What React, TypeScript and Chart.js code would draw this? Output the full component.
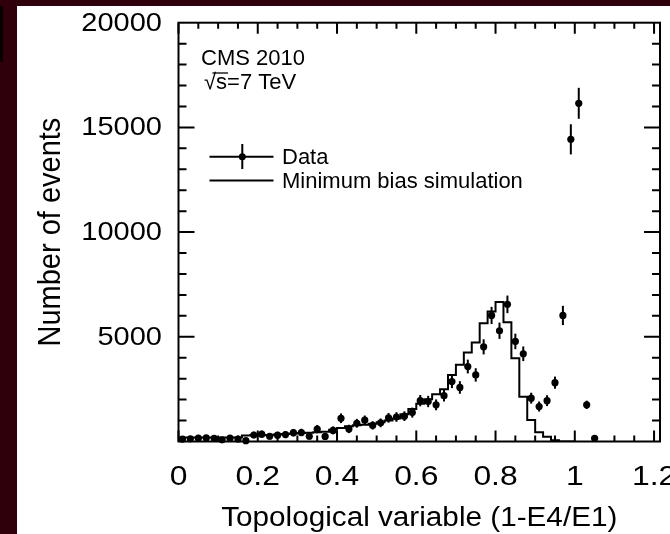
import React, { useEffect, useRef } from 'react';
import { Chart, registerables } from 'chart.js';

Chart.register(...registerables);

// ---------- data ----------
const dataBinCenters = [
  0.01, 0.03, 0.05, 0.07, 0.09, 0.11, 0.13, 0.15, 0.17, 0.19,
  0.21, 0.23, 0.25, 0.27, 0.29, 0.31, 0.33, 0.35, 0.37, 0.39,
  0.41, 0.43, 0.45, 0.47, 0.49, 0.51, 0.53, 0.55, 0.57, 0.59,
  0.61, 0.63, 0.65, 0.67, 0.69, 0.71, 0.73, 0.75, 0.77, 0.79,
  0.81, 0.83, 0.85, 0.87, 0.89, 0.91, 0.93, 0.95, 0.97, 0.99,
  1.01, 1.03, 1.05,
];
const dataCounts = [
  110, 130, 160, 170, 150, 80, 160, 120, 40, 310,
  350, 250, 300, 330, 420, 430, 250, 590, 240, 530,
  1110, 600, 870, 1020, 770, 890, 1130, 1170, 1210, 1380,
  1950, 1910, 1750, 2190, 2860, 2580, 3580, 3180, 4520, 6020,
  5290, 6550, 4780, 4190, 2070, 1670, 1950, 2810, 6020, 14430,
  16150, 1750, 150,
];
const dataErrors = [
  100, 100, 100, 100, 100, 100, 100, 100, 100, 160,
  170, 150, 160, 170, 180, 180, 150, 200, 150, 190,
  230, 200, 210, 220, 200, 210, 230, 230, 230, 240,
  270, 270, 260, 280, 310, 300, 330, 320, 360, 410,
  390, 420, 370, 350, 260, 240, 260, 290, 460, 720,
  740, 200, 100,
];

const simBinCenters = [
  0.01, 0.03, 0.05, 0.07, 0.09, 0.11, 0.13, 0.15, 0.17, 0.19,
  0.21, 0.23, 0.25, 0.27, 0.29, 0.31, 0.33, 0.35, 0.37, 0.39,
  0.41, 0.43, 0.45, 0.47, 0.49, 0.51, 0.53, 0.55, 0.57, 0.59,
  0.61, 0.63, 0.65, 0.67, 0.69, 0.71, 0.73, 0.75, 0.77, 0.79,
  0.81, 0.83, 0.85, 0.87, 0.89, 0.91, 0.93, 0.95, 0.97, 0.99,
];
const simCounts = [
  190, 190, 190, 190, 190, 190, 190, 190, 190, 290,
  300, 300, 310, 330, 360, 380, 400, 420, 440, 470,
  560, 650, 730, 780, 800, 850, 920, 1000, 1100, 1300,
  1550, 1800, 2020, 2260, 2500, 3180, 3660, 4250, 4730, 5650,
  6210, 6660, 5690, 3980, 2140, 1030, 440, 230, 60, 0,
];
const BIN_WIDTH = 0.02;

const xTickValues = [0, 0.2, 0.4, 0.6, 0.8, 1.0, 1.2];
const xTickLabels = ['0', '0.2', '0.4', '0.6', '0.8', '1', '1.2'];
const yTickValues = [5000, 10000, 15000, 20000];
const yTickLabels = ['5000', '10000', '15000', '20000'];
const xMinorStep = 0.05;
const yMinorStep = 1000;
const X_MIN = 0;
const X_MAX = 1.215;
const Y_MIN = 0;
const Y_MAX = 20000;

const xTitle = 'Topological variable (1-E4/E1)';
const yTitle = 'Number of events';
const legendData = 'Data';
const legendSim = 'Minimum bias simulation';
const noteLine1 = 'CMS 2010';
const noteLine2 = '√s=7 TeV';

// ---------- drawing helpers ----------
const FONT = '"Liberation Sans", Arial, Helvetica, sans-serif';
const INK = '#000';

function drawText(
  ctx: CanvasRenderingContext2D,
  s: string,
  x: number,
  y: number,
  size: number,
  align: CanvasTextAlign,
  baseline: CanvasTextBaseline,
  sx = 1,
  rot = 0,
  sy = 1,
) {
  ctx.save();
  ctx.translate(x, y);
  if (rot) ctx.rotate(rot);
  ctx.scale(sx, sy);
  ctx.font = `${size}px ${FONT}`;
  ctx.textAlign = align;
  ctx.textBaseline = baseline;
  ctx.fillStyle = INK;
  ctx.fillText(s, 0, 0);
  ctx.restore();
}

const errorBarPlugin = {
  id: 'errorBars',
  afterDatasetsDraw(chart: any) {
    const ctx = chart.ctx as CanvasRenderingContext2D;
    const xs = chart.scales.x;
    const ys = chart.scales.y;
    ctx.save();
    ctx.strokeStyle = INK;
    ctx.lineWidth = 2;
    dataBinCenters.forEach((xc, i) => {
      const px = xs.getPixelForValue(xc);
      const y1 = ys.getPixelForValue(dataCounts[i] - dataErrors[i]);
      const y2 = ys.getPixelForValue(dataCounts[i] + dataErrors[i]);
      ctx.beginPath();
      ctx.moveTo(px, Math.min(y1, chart.chartArea.bottom));
      ctx.lineTo(px, y2);
      ctx.stroke();
    });
    ctx.restore();
  },
};

const framePlugin = {
  id: 'frame',
  afterDraw(chart: any) {
    const ctx = chart.ctx as CanvasRenderingContext2D;
    const { left, right, top, bottom } = chart.chartArea;
    const xs = chart.scales.x;
    const ys = chart.scales.y;
    ctx.save();
    ctx.strokeStyle = INK;
    ctx.lineWidth = 2;
    ctx.lineCap = 'butt';
    ctx.strokeRect(left, top, right - left, bottom - top);

    // x ticks (bottom and top, inward)
    const nx = Math.round(1.2 / xMinorStep);
    for (let i = 0; i <= nx; i++) {
      const v = i * xMinorStep;
      const px = xs.getPixelForValue(v);
      const major = i % 4 === 0;
      const len = major ? 11 : 6;
      ctx.beginPath();
      ctx.moveTo(px, bottom);
      ctx.lineTo(px, bottom - len);
      ctx.moveTo(px, top);
      ctx.lineTo(px, top + len);
      ctx.stroke();
    }
    // y ticks (left and right, inward)
    const ny = Math.round(Y_MAX / yMinorStep);
    for (let i = 1; i < ny; i++) {
      const v = i * yMinorStep;
      const py = ys.getPixelForValue(v);
      const major = i % 5 === 0;
      const len = major ? 16 : 8;
      ctx.beginPath();
      ctx.moveTo(left, py);
      ctx.lineTo(left + len, py);
      ctx.moveTo(right, py);
      ctx.lineTo(right - len, py);
      ctx.stroke();
    }
    ctx.restore();

    // tick labels
    xTickValues.forEach((v, i) => {
      drawText(ctx, xTickLabels[i], xs.getPixelForValue(v), 477.5, 27, 'center', 'middle', 1.18);
    });
    yTickValues.forEach((v, i) => {
      drawText(ctx, yTickLabels[i], 162, ys.getPixelForValue(v) + 1, 25, 'right', 'middle', 1.16);
    });

    // axis titles
    drawText(ctx, xTitle, (left + right) / 2, 519, 27, 'center', 'middle', 1.1);
    drawText(ctx, yTitle, 51, (top + bottom) / 2, 29, 'center', 'middle', 1, -Math.PI / 2, 1.1);

    // annotation
    drawText(ctx, noteLine1, 201, 65, 22, 'left', 'alphabetic');
    drawText(ctx, noteLine2, 204, 89, 22, 'left', 'alphabetic');
    ctx.save();
    ctx.font = `22px ${FONT}`;
    const wRad = ctx.measureText('√').width;
    const wS = ctx.measureText('s').width;
    ctx.strokeStyle = INK;
    ctx.lineWidth = 1.3;
    ctx.beginPath();
    ctx.moveTo(204 + wRad * 0.7, 73);
    ctx.lineTo(204 + wRad + wS + 1, 73);
    ctx.stroke();
    ctx.restore();

    // legend
    ctx.save();
    ctx.strokeStyle = INK;
    ctx.fillStyle = INK;
    ctx.lineWidth = 2;
    ctx.beginPath();
    ctx.moveTo(209.5, 156.7);
    ctx.lineTo(273.5, 156.7);
    ctx.moveTo(242.3, 144);
    ctx.lineTo(242.3, 169);
    ctx.moveTo(209.5, 180.5);
    ctx.lineTo(273.5, 180.5);
    ctx.stroke();
    ctx.beginPath();
    ctx.arc(242.3, 156.7, 3.5, 0, Math.PI * 2);
    ctx.fill();
    ctx.restore();
    drawText(ctx, legendData, 282, 164, 22, 'left', 'alphabetic');
    drawText(ctx, legendSim, 282, 188, 22, 'left', 'alphabetic');
  },
};

export default function App() {
  const canvasRef = useRef<HTMLCanvasElement | null>(null);

  useEffect(() => {
    const canvas = canvasRef.current;
    if (!canvas) return;

    const simPoints = simBinCenters.map((c, i) => ({ x: c - BIN_WIDTH / 2, y: simCounts[i] }));
    simPoints.push({
      x: simBinCenters[simBinCenters.length - 1] + BIN_WIDTH / 2,
      y: simCounts[simCounts.length - 1],
    });
    const dataPoints = dataBinCenters.map((c, i) => ({ x: c, y: dataCounts[i] }));

    const chart = new Chart(canvas, {
      type: 'scatter',
      data: {
        datasets: [
          {
            type: 'line',
            label: legendSim,
            data: simPoints,
            stepped: 'after',
            borderColor: INK,
            borderWidth: 2,
            pointRadius: 0,
            fill: false,
            order: 2,
          } as any,
          {
            type: 'scatter',
            label: legendData,
            data: dataPoints,
            backgroundColor: INK,
            borderColor: INK,
            borderWidth: 0,
            pointRadius: 3.6,
            clip: false,
            order: 1,
          } as any,
        ],
      },
      options: {
        responsive: false,
        maintainAspectRatio: false,
        animation: false,
        devicePixelRatio: 1,
        events: [],
        layout: { padding: { left: 178.5, top: 22.7, right: 40, bottom: 92.5 } },
        scales: {
          x: { type: 'linear', min: X_MIN, max: X_MAX, display: false },
          y: { type: 'linear', min: Y_MIN, max: Y_MAX, display: false },
        },
        plugins: {
          legend: { display: false },
          tooltip: { enabled: false },
        },
      },
      plugins: [errorBarPlugin, framePlugin],
    });

    return () => chart.destroy();
  }, []);

  return (
    <div
      style={{
        position: 'fixed',
        left: 0,
        top: 0,
        width: 670,
        height: 534,
        overflow: 'hidden',
        background: '#2f000b',
      }}
    >
      <div style={{ position: 'absolute', left: 0, top: 6, width: 3, height: 56, background: '#0a0000' }} />
      <div style={{ position: 'absolute', left: 17, top: 6, right: 0, bottom: 0, background: '#ffffff' }} />
      <canvas
        ref={canvasRef}
        width={700}
        height={534}
        style={{ position: 'absolute', left: 0, top: 0, width: 700, height: 534 }}
      />
    </div>
  );
}
